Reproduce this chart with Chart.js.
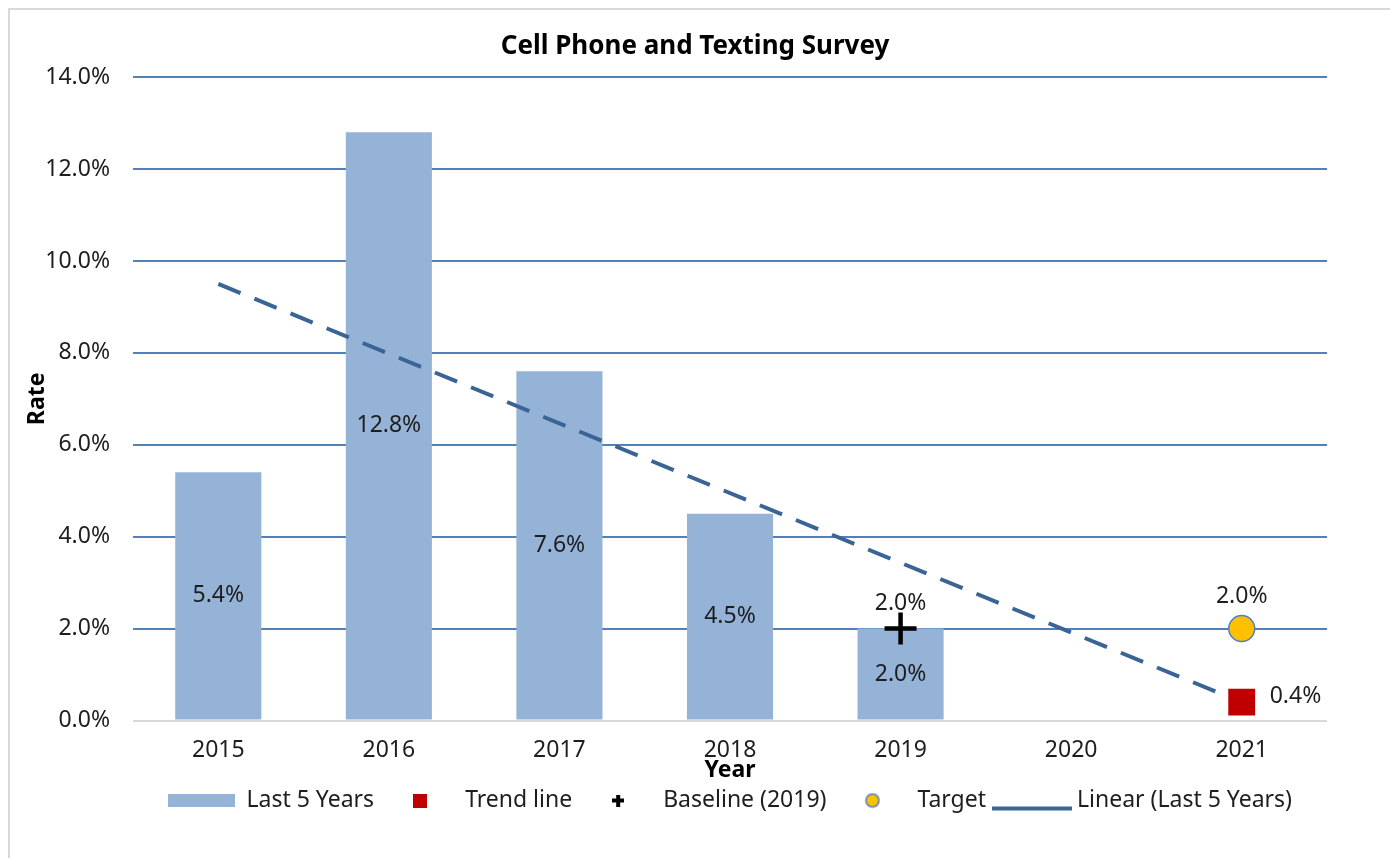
<!DOCTYPE html>
<html>
<head>
<meta charset="utf-8">
<title>Cell Phone and Texting Survey</title>
<script src="https://cdn.jsdelivr.net/npm/chart.js@4.4.1/dist/chart.umd.min.js"></script>
<style>
  html, body { margin: 0; padding: 0; background: #fff; }
  #frame {
    position: absolute; left: 8px; top: 8px; right: 0; bottom: 0;
    border-left: 2px solid #d9d9d9; border-top: 2px solid #d9d9d9;
  }
  #wrap { position: absolute; left: 0; top: 0; width: 1390px; height: 858px; }
</style>
</head>
<body>
<div id="frame"></div>
<div id="wrap"><canvas id="surveyChart" width="1390" height="858"></canvas></div>
<script>
// chart values
const years = ["2015", "2016", "2017", "2018", "2019", "2020", "2021"];
const last5Years = [5.4, 12.8, 7.6, 4.5, 2.0, null, null];
const trendLine = [null, null, null, null, null, null, 0.4];
const baseline2019 = [null, null, null, null, 2.0, null, null];
const target = [null, null, null, null, null, null, 2.0];
const linearFit = [9.5, null, null, null, null, null, 0.4];
const rateMin = 0;
const rateMax = 14;
const rateStep = 2;

const FONT = "'Noto Sans', 'DejaVu Sans', sans-serif";
const TEXT = "#1e1e1e";
const barColor = "#95b3d7";
const gridBlue = "#4f81bd";

// little canvases used as legend symbols
function makeIcon(w, h, draw) {
  const c = document.createElement("canvas");
  c.width = w;
  c.height = h;
  draw(c.getContext("2d"));
  return c;
}

const legendIcons = [
  makeIcon(67, 13, (g) => {
    g.fillStyle = barColor;
    g.fillRect(0, 0, 67, 13);
  }),
  makeIcon(14, 14, (g) => {
    g.fillStyle = "#c00000";
    g.fillRect(0, 0, 14, 14);
  }),
  makeIcon(12, 12, (g) => {
    g.fillStyle = "#000";
    g.fillRect(4, 0, 4, 12);
    g.fillRect(0, 4, 12, 4);
  }),
  makeIcon(16, 16, (g) => {
    g.beginPath();
    g.arc(8, 8, 6.5, 0, Math.PI * 2);
    g.fillStyle = "#ffc000";
    g.fill();
    g.lineWidth = 1.5;
    g.strokeStyle = gridBlue;
    g.stroke();
  }),
  makeIcon(80, 24, (g) => {
    g.fillStyle = "#3a6496";
    g.fillRect(0, 18, 80, 4);
  }),
];

const valueLabels = {
  id: "valueLabels",
  afterDatasetsDraw(chart) {
    const ctx = chart.ctx;
    ctx.save();
    ctx.font = "23px " + FONT;
    ctx.fillStyle = TEXT;
    chart.data.datasets.forEach((ds, i) => {
      if (!ds.label_pos) return;
      chart.getDatasetMeta(i).data.forEach((el, j) => {
        const v = ds.data[j];
        if (v === null || v === undefined) return;
        let x = el.x;
        let y = el.y;
        ctx.textAlign = "center";
        ctx.textBaseline = "middle";
        if (ds.label_pos === "center") {
          y = (el.y + el.base) / 2;
        } else if (ds.label_pos === "above") {
          y = el.y - ds.label_gap;
        } else if (ds.label_pos === "right") {
          x = el.x + ds.label_gap;
          y = el.y - 6;
          ctx.textAlign = "left";
        }
        ctx.fillText(v.toFixed(1) + "%", x, y);
      });
    });
    ctx.restore();
  },
};

const ctx = document.getElementById("surveyChart").getContext("2d");

new Chart(ctx, {
  type: "bar",
  data: {
    labels: years,
    datasets: [
      {
        type: "bar",
        label: "Last 5 Years",
        data: last5Years,
        backgroundColor: barColor,
        categoryPercentage: 1,
        barPercentage: 0.505,
        order: 5,
        label_pos: "center",
      },
      {
        type: "line",
        label: "Trend line",
        data: trendLine,
        showLine: false,
        pointStyle: "rect",
        pointRadius: 19,
        pointHoverRadius: 19,
        pointBackgroundColor: "#c00000",
        pointBorderColor: "#c00000",
        pointBorderWidth: 0,
        order: 1,
        label_pos: "right",
        label_gap: 28,
      },
      {
        type: "line",
        label: "Baseline (2019)",
        data: baseline2019,
        showLine: false,
        pointStyle: "cross",
        pointRadius: 16,
        pointHoverRadius: 16,
        pointBorderColor: "#000",
        pointBorderWidth: 4.5,
        order: 2,
        label_pos: "above",
        label_gap: 25,
      },
      {
        type: "line",
        label: "Target",
        data: target,
        showLine: false,
        pointStyle: "circle",
        pointRadius: 13,
        pointHoverRadius: 13,
        pointBackgroundColor: "#ffc000",
        pointBorderColor: gridBlue,
        pointBorderWidth: 1.5,
        order: 3,
        label_pos: "above",
        label_gap: 32,
      },
      {
        type: "line",
        label: "Linear (Last 5 Years)",
        data: linearFit,
        spanGaps: true,
        borderColor: "#3a6496",
        borderWidth: 4,
        borderDash: [24, 15],
        pointRadius: 0,
        pointHoverRadius: 0,
        fill: false,
        order: 4,
      },
    ],
  },
  options: {
    responsive: false,
    animation: false,
    events: [],
    devicePixelRatio: 1,
    layout: {
      padding: { top: 20, left: 18, right: 18, bottom: 36 },
    },
    scales: {
      x: {
        grid: { display: false, drawTicks: false },
        border: { display: false },
        ticks: {
          color: TEXT,
          font: { family: FONT, size: 23 },
          padding: 16,
          maxRotation: 0,
        },
        title: {
          display: true,
          text: "Year",
          color: "#000",
          font: { family: FONT, size: 23, weight: "bold" },
          padding: { top: 0, bottom: -8 },
        },
        afterFit(scale) {
          scale.height = 56;
        },
      },
      y: {
        min: rateMin,
        max: rateMax,
        grid: {
          drawTicks: false,
          lineWidth: 2,
          color: (c) => (c.tick && c.tick.value === 0 ? "#d9d9d9" : gridBlue),
        },
        border: { display: false },
        ticks: {
          stepSize: rateStep,
          color: TEXT,
          font: { family: FONT, size: 23 },
          padding: 23,
          callback: (v) => v.toFixed(1) + "%",
        },
        title: {
          display: true,
          text: "Rate",
          color: "#000",
          font: { family: FONT, size: 23, weight: "bold" },
          padding: { top: 6, bottom: 0 },
        },
        afterFit(scale) {
          scale.width = 115;
        },
      },
      // empty right-hand spacer so the plot ends where the original does
      spacer: {
        type: "linear",
        position: "right",
        grid: { display: false, drawTicks: false },
        border: { display: false },
        ticks: { display: false },
        afterFit(scale) {
          scale.width = 45;
        },
      },
    },
    plugins: {
      title: {
        display: true,
        text: "Cell Phone and Texting Survey",
        color: "#000",
        font: { family: FONT, size: 26, weight: "bold" },
        padding: { top: 11, bottom: 15 },
      },
      legend: {
        position: "bottom",
        fullSize: false,
        labels: {
          usePointStyle: true,
          pointStyleWidth: 67,
          padding: 12.5,
          color: TEXT,
          font: { family: FONT, size: 23 },
          generateLabels: (chart) =>
            chart.data.datasets.map((ds, i) => ({
              text: ds.label,
              pointStyle: legendIcons[i],
              datasetIndex: i,
              hidden: false,
              fontColor: TEXT,
              lineWidth: 0,
            })),
        },
      },
      tooltip: { enabled: false },
    },
  },
  plugins: [valueLabels],
});
</script>
</body>
</html>
